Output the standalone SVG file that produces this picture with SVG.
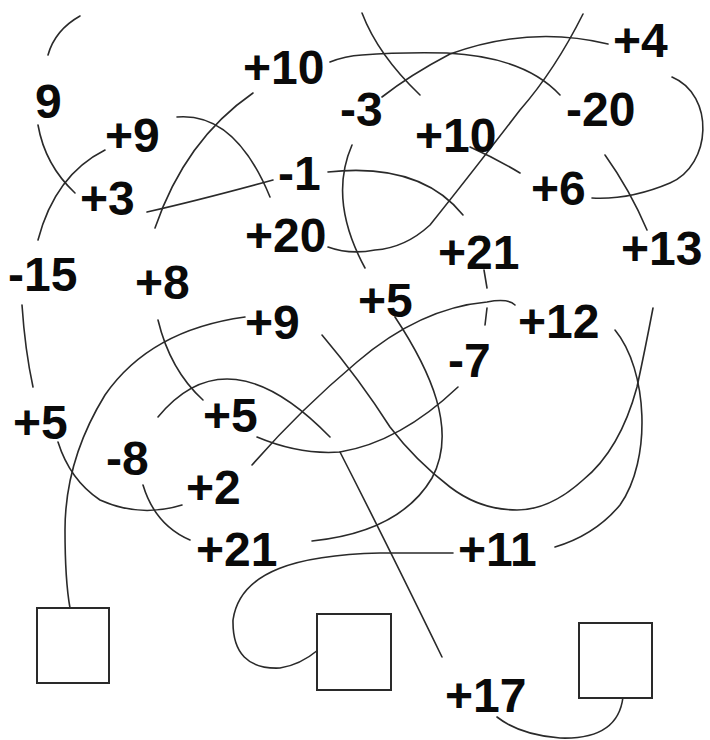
<svg xmlns="http://www.w3.org/2000/svg" width="710" height="740" viewBox="0 0 710 740">
<style>
.t{font-family:"Liberation Sans",Arial,sans-serif;font-weight:bold;font-size:48px;fill:#0a0a0a}
.l{fill:none;stroke:#2a2a2a;stroke-width:1.6;stroke-linecap:round}
.b{fill:#fff;stroke:#2a2a2a;stroke-width:2}
</style>
<rect width="710" height="740" fill="#fff"/>
<g id="connectors" class="l">
<path d="M80,16 Q55,30 48,55"/>
<path d="M38,125 Q45,165 75,193"/>
<path d="M105,150 Q55,175 38,240"/>
<path d="M177,117 Q235,112 270,197"/>
<path d="M253,93 Q185,140 155,228"/>
<path d="M147,212 Q200,200 273,180"/>
<path d="M330,62 Q345,56 362,55 Q400,52 447,53 Q525,57 560,95"/>
<path d="M382,97 Q410,75 450,54 Q530,25 608,44"/>
<path d="M362,13 Q378,55 420,95"/>
<path d="M583,14 Q555,70 520,110 Q470,175 430,225 Q405,248 375,250 Q350,255 328,247"/>
<path d="M470,147 Q495,158 520,173"/>
<path d="M672,77 C715,95 712,165 670,183 Q630,200 592,198"/>
<path d="M605,155 Q630,190 647,230"/>
<path d="M328,172 Q420,162 463,215"/>
<path d="M352,145 Q328,200 365,268"/>
<path d="M484,270 L487,288"/>
<path d="M515,305 Q508,298 487,302 Q420,308 357,362 Q300,410 252,465"/>
<path d="M487,308 L485,325"/>
<path d="M395,317 C430,370 458,430 432,478 Q400,532 312,541"/>
<path d="M615,330 C648,370 652,460 620,505 Q595,535 555,547"/>
<path d="M653,308 Q645,350 637,387 Q620,450 583,480 Q550,510 517,510 Q480,510 450,487 Q415,460 390,427 Q360,380 322,335"/>
<path d="M257,437 Q300,455 340,452 Q400,442 458,387"/>
<path d="M340,452 Q385,540 442,657"/>
<path d="M245,317 Q150,330 105,395 Q65,460 65,530 Q65,580 70,608"/>
<path d="M58,442 Q70,480 100,500 Q140,518 182,505"/>
<path d="M143,485 Q155,525 190,540"/>
<path d="M158,320 Q170,370 203,400"/>
<path d="M158,417 Q228,332 330,437"/>
<path d="M22,305 Q25,350 33,387"/>
<path d="M453,553 L380,553 C300,555 240,570 233,620 Q232,670 280,668 Q300,665 318,650"/>
<path d="M623,697 Q618,740 560,738 Q520,735 497,717"/>
</g>
<g id="boxes">
<rect id="box1" class="b" x="37" y="608" width="72" height="75"/>
<rect id="box2" class="b" x="317" y="614" width="74" height="76"/>
<rect id="box3" class="b" x="579" y="623" width="73" height="75"/>
</g>
<g id="labels" class="t">
<text id="n1" x="35" y="118">9</text>
<text id="n2" x="243" y="84">+10</text>
<text id="n3" x="105" y="152">+9</text>
<text id="n4" x="80" y="215">+3</text>
<text id="n5" x="278" y="190">-1</text>
<text id="n6" x="340" y="126">-3</text>
<text id="n7" x="415" y="152">+10</text>
<text id="n8" x="566" y="126">-20</text>
<text id="n9" x="613" y="57">+4</text>
<text id="n10" x="531" y="205">+6</text>
<text id="n11" x="621" y="265">+13</text>
<text id="n12" x="245" y="252">+20</text>
<text id="n13" x="438" y="269">+21</text>
<text id="n14" x="8" y="291">-15</text>
<text id="n15" x="135" y="299">+8</text>
<text id="n16" x="245" y="339">+9</text>
<text id="n17" x="358" y="317">+5</text>
<text id="n18" x="518" y="338">+12</text>
<text id="n19" x="448" y="377">-7</text>
<text id="n20" x="13" y="439">+5</text>
<text id="n21" x="203" y="432">+5</text>
<text id="n22" x="106" y="475">-8</text>
<text id="n23" x="186" y="504">+2</text>
<text id="n24" x="196" y="566">+21</text>
<text id="n25" x="458" y="566">+11</text>
<text id="n26" x="445" y="712">+17</text>
</g>
</svg>
